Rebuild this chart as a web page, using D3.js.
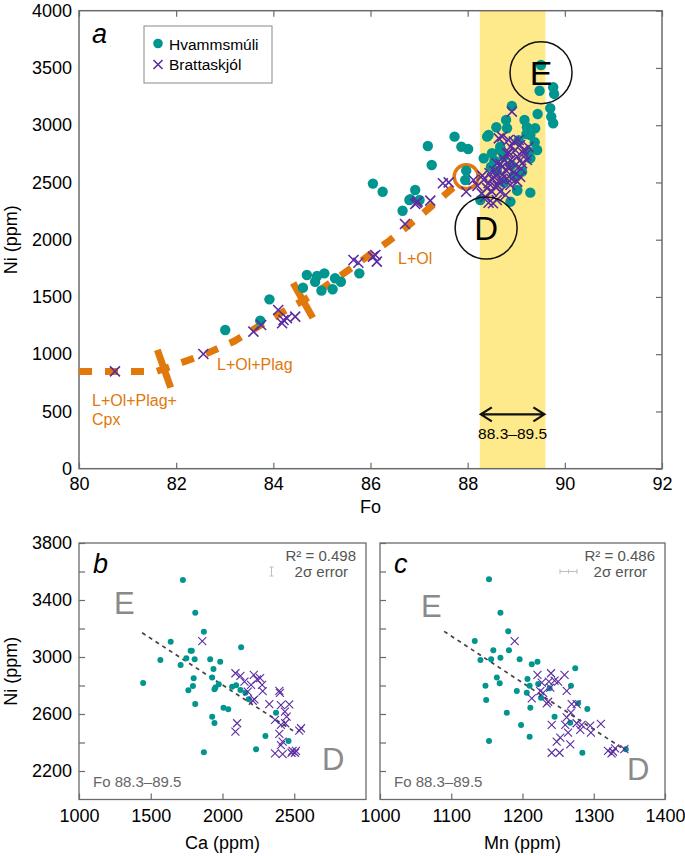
<!DOCTYPE html>
<html>
<head>
<meta charset="utf-8">
<script src="https://cdn.jsdelivr.net/npm/d3@7"></script>
<style>
  body { margin: 0; background: #fff; }
  svg { display: block; font-family: "Liberation Sans", Arial, sans-serif; }
</style>
</head>
<body>
<div id="chart"></div>
<script>
// ---- data ----
// panel a: Fo vs Ni
const hvA = [
  [83.01,1211],[83.73,1293],[83.92,1479],[84.61,1581],[84.69,1692],[84.86,1633],[84.90,1683],
  [85.05,1706],[84.99,1555],[85.22,1567],[85.27,1663],[85.39,1633],[85.77,1706],
  [86.05,2490],[86.25,2419],[86.66,2253],[86.80,2347],[86.82,2353],[86.92,2434],[87.01,2347],
  [87.18,2818],[87.26,2652],[87.73,2900],[87.87,2812],[88.01,2792],[87.97,2603],[87.95,2521],
  [88.43,2914],[88.40,2900],[88.59,2982],[88.79,3045],[88.81,2973],[88.91,3168],[89.17,3045],
  [89.22,2982],[89.39,2973],[89.21,2923],[89.29,2914],[89.38,2851],[89.43,2783],[89.29,2711],
  [88.67,2812],[88.74,2725],[88.50,2755],[88.33,2711],[88.48,2638],[89.12,2594],[89.29,2411],
  [89.02,2428],[88.88,2332],[88.26,2347],[89.02,2434],[88.67,2783],[89.27,2769],
  [88.60,2600],[88.75,2500],[88.90,2650],[88.55,2690],[89.05,2870],[88.95,2560],
  [89.51,3526],[89.48,3301],[89.76,3331],[89.78,3273],[89.70,3148],[89.72,3074],[89.76,3017],[89.44,3098]
];
const brA = [
  [80.74,850],[82.56,1002],[83.59,1197],[83.75,1255],[84.10,1386],[84.21,1299],[84.28,1314],
  [84.18,1270],[84.45,1328],[85.65,1823],[85.75,1799],[86.05,1852],[86.13,1808],[86.10,1866],
  [86.71,2137],[86.95,2323],[86.92,2312],[86.97,2332],[87.23,2341],[87.49,2493],[87.61,2501],
  [87.97,2419],[88.12,2521],
  [88.33,2521],[88.43,2493],[88.50,2536],[88.57,2463],[88.64,2507],[88.71,2565],[88.78,2609],
  [88.81,2536],[88.88,2478],[88.67,2419],[88.78,2390],[89.02,2507],[89.08,2550],[88.60,2667],
  [88.88,2696],[89.02,2725],[89.15,2755],[89.22,2696],[88.36,2375],[88.43,2323],[88.52,2318],
  [88.60,2347],[88.29,2405],[88.91,3118],[88.64,2885],[88.71,2900],[88.84,2871],[88.95,2856],
  [89.05,2871],[89.08,2827],[88.88,2812],[88.98,2783],[89.15,2783],[88.81,2755],[89.19,2740],
  [88.91,2681],[89.12,2667],[88.71,2638],
  [88.45,2580],[88.55,2600],[88.68,2660],[88.75,2700],[88.85,2620],[88.95,2590],[89.10,2620],
  [88.40,2450],[88.50,2420],[88.62,2470],[88.70,2530],[88.98,2650],[88.85,2760],[89.25,2810],
  [88.58,2560],[88.90,2530],[88.20,2470],[88.30,2560]
];
// fractional crystallisation model path
const fracCurve = [
  [80,850],[81.6,850],[82.6,1000],[83.2,1115],[83.8,1270],[84.3,1395],[84.8,1515],
  [85.4,1690],[86.4,1995],[87.0,2200],[87.4,2345],[87.8,2490]
];
const stageBreaks = [81.75, 84.61];
const foBand = [88.25, 89.6];

// panel b: Ca vs Ni
const hvB = [
  [1724,3540],[1810,3311],[1870,3178],[1639,3107],[1778,3044],[1786,3044],[1567,2979],[1748,2991],
  [1806,2984],[1708,2944],[1914,2984],[1984,2967],[2130,3068],[1937,2916],[1447,2818],[1799,2851],
  [1794,2796],[1762,2766],[1928,2857],[1974,2808],[1951,2786],[1944,2773],[2067,2792],[2095,2801],
  [2125,2768],[2160,2749],[2183,2703],[1810,2670],[2007,2644],[2040,2633],[1928,2581],[1944,2537],
  [2373,2609],[2299,2446],[2460,2411],[2234,2352],[1870,2331]
];
const brB = [
  [1859,3112],[2090,2886],[2125,2867],[2153,2827],[2218,2874],[2241,2843],[2262,2851],[2276,2804],
  [2280,2761],[2199,2804],[2176,2757],[2222,2703],[2211,2693],[2326,2670],[2396,2763],[2400,2749],
  [2407,2663],[2465,2668],[2435,2616],[2447,2581],[2366,2558],[2407,2523],[2437,2535],[2396,2460],
  [2547,2500],[2535,2483],[2102,2535],[2090,2476],[2419,2406],[2407,2382],[2366,2324],[2419,2319],
  [2488,2342],[2505,2328],[2481,2328],[2512,2342]
];
const regB = [[1440,3170],[2510,2470]];

// panel c: Mn vs Ni
const hvC = [
  [1153,3545],[1169,3311],[1180,3180],[1133,3112],[1159,3047],[1181,3047],[1141,2979],[1156,2984],
  [1169,2995],[1196,2984],[1213,2949],[1221,2967],[1274,2921],[1164,2857],[1207,2846],[1148,2799],
  [1168,2815],[1210,2799],[1192,2761],[1206,2749],[1222,2811],[1226,2714],[1268,2799],[1149,2698],
  [1211,2644],[1178,2609],[1198,2523],[1210,2441],[1153,2411],[1245,2581],[1267,2539],[1278,2675],
  [1291,2635],[1284,2328],[1345,2352],[1238,2780]
];
const brC = [
  [1189,3112],[1221,2874],[1240,2886],[1259,2874],[1227,2820],[1237,2827],[1245,2834],[1250,2827],
  [1239,2785],[1225,2761],[1229,2749],[1262,2763],[1213,2710],[1236,2686],[1234,2675],[1269,2670],
  [1276,2670],[1268,2609],[1262,2577],[1276,2535],[1283,2523],[1295,2518],[1310,2530],[1281,2488],
  [1296,2469],[1241,2523],[1260,2523],[1264,2469],[1253,2434],[1248,2406],[1267,2387],[1241,2328],
  [1252,2328],[1320,2342],[1327,2335],[1325,2324],[1330,2359],[1343,2354]
];
const regC = [[1090,3180],[1340,2360]];

const foTicks = [80, 82, 84, 86, 88, 90, 92];
const niTicksA = d3.range(0, 4001, 500);
const caTicks = [1000, 1500, 2000, 2500];
const mnTicks = [1000, 1100, 1200, 1300, 1400];
const niTicksBC = d3.range(2200, 3801, 200);
const niLabelsBC = [2200, 2600, 3000, 3400, 3800];

// ---- colours ----
const teal = "#00958e";
const purple = "#5a2ca0";
const orange = "#e0780c";
const axisGrey = "#6b6b6b";
const font = "'Liberation Sans', Arial, sans-serif";
const plain = d3.format("d");

const svg = d3.select("#chart").append("svg").attr("width", 685).attr("height", 856);

function styleAxis(g, size) {
  g.attr("font-family", font).attr("font-size", size || 18);
  g.select(".domain").remove();
  g.selectAll(".tick line").attr("stroke", axisGrey).attr("stroke-width", 1.2);
  g.selectAll(".tick text").attr("fill", "#000");
}

function crossPath(s) {
  return `M${-s},${-s}L${s},${s}M${-s},${s}L${s},${-s}`;
}

function drawPoints(g, x, y, hv, br, r, s, sw) {
  g.append("g").selectAll("circle").data(hv).join("circle")
    .attr("cx", d => x(d[0])).attr("cy", d => y(d[1])).attr("r", r)
    .attr("fill", teal);
  g.append("g").selectAll("path").data(br).join("path")
    .attr("transform", d => `translate(${x(d[0])},${y(d[1])})`)
    .attr("d", crossPath(s))
    .attr("fill", "none").attr("stroke", purple).attr("stroke-width", sw);
}

// =========== panel a ===========
const xA = d3.scaleLinear().domain([80, 92]).range([79, 662]);
const yA = d3.scaleLinear().domain([0, 4000]).range([468.7, 10.7]);
const gA = svg.append("g");

gA.append("rect")
  .attr("x", xA(foBand[0])).attr("y", yA(4000))
  .attr("width", xA(foBand[1]) - xA(foBand[0])).attr("height", yA(0) - yA(4000))
  .attr("fill", "#fee98b");

gA.append("g").attr("transform", `translate(0,${yA(0)})`)
  .call(d3.axisBottom(xA).tickValues(foTicks).tickSize(-6).tickPadding(9).tickFormat(plain))
  .call(styleAxis);
gA.append("g").attr("transform", `translate(0,${yA(4000)})`)
  .call(d3.axisTop(xA).tickValues(foTicks).tickSize(-6).tickFormat(""))
  .call(styleAxis);
gA.append("g").attr("transform", `translate(${xA(80)},0)`)
  .call(d3.axisLeft(yA).tickValues(niTicksA).tickSize(0).tickPadding(7).tickFormat(plain))
  .call(styleAxis);
gA.append("g").attr("transform", `translate(${xA(92)},0)`)
  .call(d3.axisRight(yA).tickValues(niTicksA).tickSize(-6).tickFormat(""))
  .call(styleAxis);
gA.append("rect")
  .attr("x", xA(80)).attr("y", yA(4000))
  .attr("width", xA(92) - xA(80)).attr("height", yA(0) - yA(4000))
  .attr("fill", "none").attr("stroke", axisGrey).attr("stroke-width", 1.5);

// model curve
const lineA = d3.line().x(d => xA(d[0])).y(d => yA(d[1]));
gA.append("path").datum(fracCurve)
  .attr("d", lineA).attr("fill", "none")
  .attr("stroke", orange).attr("stroke-width", 7)
  .attr("stroke-dasharray", "13 13");

// stage bars across the curve
stageBreaks.forEach(fo => {
  const i = d3.bisector(d => d[0]).left(fracCurve, fo);
  const p0 = fracCurve[i - 1], p1 = fracCurve[i];
  const t = (fo - p0[0]) / (p1[0] - p0[0]);
  const ni = p0[1] + t * (p1[1] - p0[1]);
  const dx = xA(p1[0]) - xA(p0[0]), dy = yA(p1[1]) - yA(p0[1]);
  const len = Math.hypot(dx, dy);
  const nx = -dy / len, ny = dx / len, h = 20;
  gA.append("line")
    .attr("x1", xA(fo) - nx * h).attr("y1", yA(ni) - ny * h)
    .attr("x2", xA(fo) + nx * h).attr("y2", yA(ni) + ny * h)
    .attr("stroke", orange).attr("stroke-width", 7);
});

// starting composition
gA.append("circle")
  .attr("cx", xA(87.97)).attr("cy", yA(2550)).attr("r", 12)
  .attr("fill", "none").attr("stroke", orange).attr("stroke-width", 3.5);

drawPoints(gA, xA, yA, hvA, brA, 5.2, 5, 1.6);

// E / D circles
[["E", 89.51, 3459, 34], ["D", 88.38, 2102, 33]].forEach(([lab, fo, ni, fs]) => {
  gA.append("circle").attr("cx", xA(fo)).attr("cy", yA(ni)).attr("r", 31)
    .attr("fill", "none").attr("stroke", "#111").attr("stroke-width", 1.5);
  gA.append("text").attr("x", xA(fo)).attr("y", yA(ni) + fs * 0.36)
    .attr("text-anchor", "middle").attr("font-size", fs).attr("fill", "#000")
    .text(lab);
});

// crystallising assemblage labels
gA.append("text").attr("x", 398).attr("y", 264).attr("font-size", 16).attr("fill", orange).text("L+Ol");
gA.append("text").attr("x", 217).attr("y", 370).attr("font-size", 16).attr("fill", orange).text("L+Ol+Plag");
gA.append("text").attr("x", 92).attr("y", 406).attr("font-size", 16).attr("fill", orange).text("L+Ol+Plag+");
gA.append("text").attr("x", 92).attr("y", 425).attr("font-size", 16).attr("fill", orange).text("Cpx");

// Fo range arrow
const arrY = yA(475);
const ax0 = xA(foBand[0]) + 1, ax1 = xA(foBand[1]) - 1;
gA.append("path")
  .attr("d", `M${ax0},${arrY}H${ax1}M${ax0 + 11},${arrY - 7}L${ax0},${arrY}L${ax0 + 11},${arrY + 7}` +
             `M${ax1 - 11},${arrY - 7}L${ax1},${arrY}L${ax1 - 11},${arrY + 7}`)
  .attr("fill", "none").attr("stroke", "#111").attr("stroke-width", 2.2);
gA.append("text").attr("x", (ax0 + ax1) / 2).attr("y", 439)
  .attr("text-anchor", "middle").attr("font-size", 15.5).attr("fill", "#000")
  .text("88.3–89.5");

// legend
const leg = gA.append("g");
leg.append("rect").attr("x", 144).attr("y", 26).attr("width", 128).attr("height", 57)
  .attr("fill", "#fff").attr("stroke", "#888").attr("stroke-width", 1);
leg.append("circle").attr("cx", 158).attr("cy", 43.5).attr("r", 4.8).attr("fill", teal);
leg.append("path").attr("transform", "translate(158,64.5)").attr("d", crossPath(4.5))
  .attr("stroke", purple).attr("stroke-width", 1.6).attr("fill", "none");
leg.append("text").attr("x", 169).attr("y", 49.5).attr("font-size", 15.5).text("Hvammsmúli");
leg.append("text").attr("x", 169).attr("y", 70).attr("font-size", 15.5).text("Brattaskjól");

gA.append("text").attr("x", 92).attr("y", 43).attr("font-size", 27)
  .attr("font-style", "italic").text("a");
gA.append("text").attr("x", (xA(80) + xA(92)) / 2).attr("y", 513)
  .attr("text-anchor", "middle").attr("font-size", 18).text("Fo");
gA.append("text").attr("transform", `translate(17,${(yA(0) + yA(4000)) / 2}) rotate(-90)`)
  .attr("text-anchor", "middle").attr("font-size", 18).text("Ni (ppm)");

// =========== panels b and c ===========
const yBC = d3.scaleLinear().domain([2000, 3800]).range([799.5, 543]);

function smallPanel(opts) {
  const x = d3.scaleLinear().domain(opts.domain).range(opts.range);
  const g = svg.append("g");
  const x0 = opts.range[0], x1 = opts.range[1];

  g.append("g").attr("transform", `translate(0,${yBC(2000)})`)
    .call(d3.axisBottom(x).tickValues(opts.ticks).tickSize(-6).tickPadding(10).tickFormat(plain))
    .call(styleAxis);
  g.append("g").attr("transform", `translate(${x0},0)`)
    .call(d3.axisLeft(yBC).tickValues(niTicksBC).tickSize(-6).tickPadding(7)
      .tickFormat(d => opts.yLabels && niLabelsBC.includes(d) ? plain(d) : ""))
    .call(styleAxis);
  g.append("rect")
    .attr("x", x0).attr("y", yBC(3800))
    .attr("width", x1 - x0).attr("height", yBC(2000) - yBC(3800))
    .attr("fill", "none").attr("stroke", axisGrey).attr("stroke-width", 1.3);

  g.append("path").datum(opts.reg)
    .attr("d", d3.line().x(d => x(d[0])).y(d => yBC(d[1])))
    .attr("stroke", "#444").attr("stroke-width", 1.7).attr("stroke-dasharray", "4 4");

  drawPoints(g, x, yBC, opts.hv, opts.br, 3, 4, 1.1);

  g.append("text").attr("x", x0 + 14).attr("y", 573).attr("font-size", 27)
    .attr("font-style", "italic").text(opts.letter);
  g.append("text").attr("x", x1 - 10).attr("y", 561).attr("text-anchor", "end")
    .attr("font-size", 15).attr("fill", "#555").text(opts.r2);
  g.append("text").attr("x", x1 - 18).attr("y", 577).attr("text-anchor", "end")
    .attr("font-size", 15).attr("fill", "#555").text("2σ error");
  g.append("path").attr("d", opts.errPath)
    .attr("fill", "none").attr("stroke", "#bdbdbd").attr("stroke-width", 1);
  g.append("text").attr("x", x0 + 14).attr("y", 787).attr("font-size", 15)
    .attr("fill", "#666").text("Fo 88.3–89.5");
  g.append("text").attr("x", opts.ePos[0]).attr("y", opts.ePos[1]).attr("font-size", 31)
    .attr("fill", "#8a8a8a").text("E");
  g.append("text").attr("x", opts.dPos[0]).attr("y", opts.dPos[1]).attr("font-size", 31)
    .attr("fill", "#8a8a8a").text("D");
  g.append("text").attr("x", (x0 + x1) / 2).attr("y", 849)
    .attr("text-anchor", "middle").attr("font-size", 18).text(opts.xLabel);
}

smallPanel({
  domain: [1000, 3000], range: [79, 366], ticks: caTicks, yLabels: true,
  hv: hvB, br: brB, reg: regB, letter: "b", r2: "R² = 0.498",
  errPath: "M271.5,567V576M269.5,567H273.5M269.5,576H273.5",
  ePos: [114, 614], dPos: [322, 770], xLabel: "Ca (ppm)"
});
smallPanel({
  domain: [1000, 1400], range: [380, 665], ticks: mnTicks, yLabels: false,
  hv: hvC, br: brC, reg: regC, letter: "c", r2: "R² = 0.486",
  errPath: "M560,571.5H577M560,569V574M577,569V574M568.5,569.5V573.5",
  ePos: [421, 617], dPos: [627, 780], xLabel: "Mn (ppm)"
});

svg.append("text").attr("transform", `translate(17,${(yBC(2000) + yBC(3800)) / 2}) rotate(-90)`)
  .attr("text-anchor", "middle").attr("font-size", 18).text("Ni (ppm)");
</script>
</body>
</html>
